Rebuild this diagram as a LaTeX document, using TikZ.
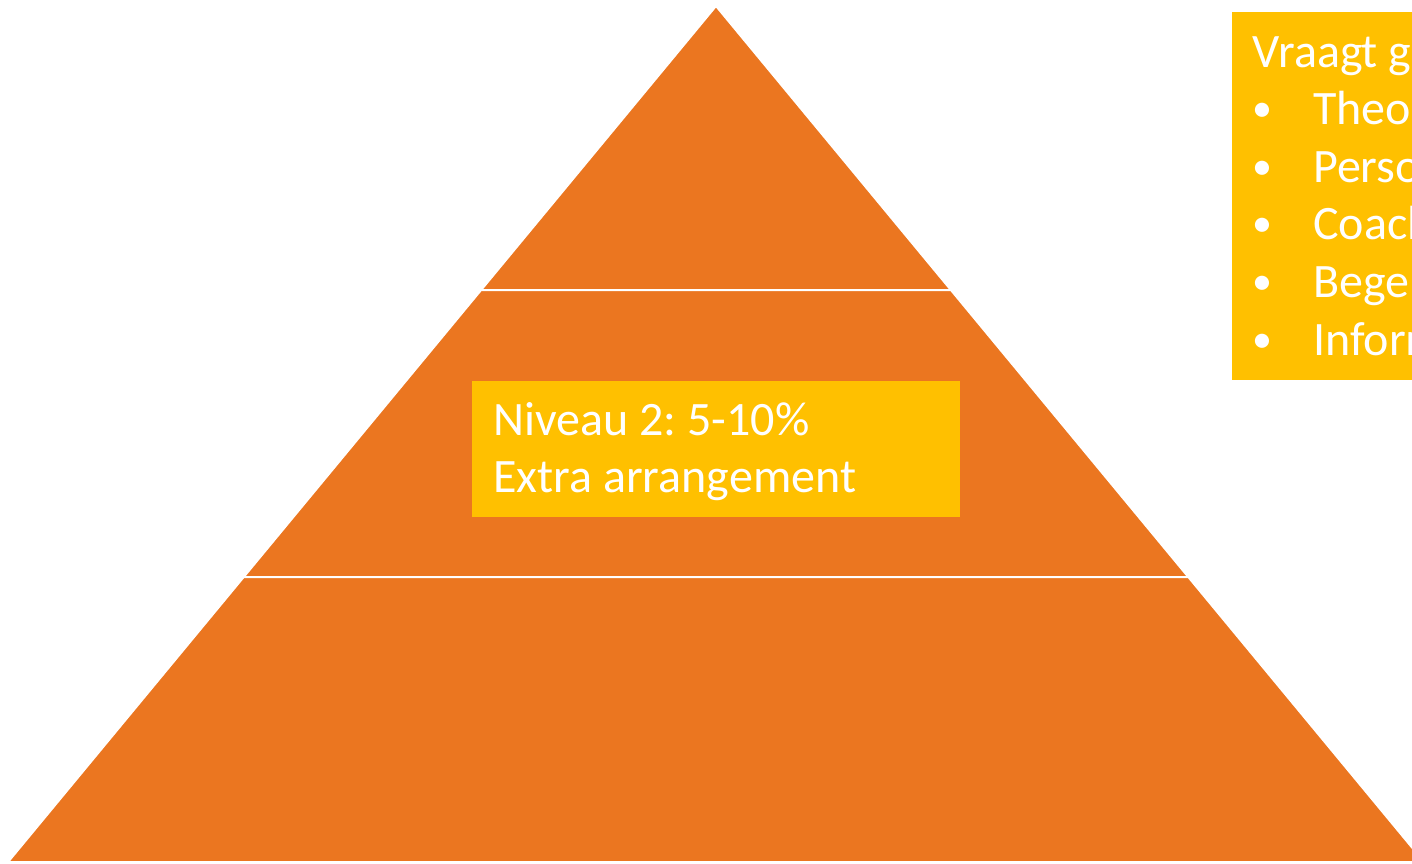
\documentclass[tikz,border=0pt]{standalone}
\usepackage{fontspec}
\setmainfont{Carlito}
\frenchspacing
\definecolor{pyrorange}{RGB}{235,118,32}
\definecolor{boxgold}{RGB}{255,192,0}

\begin{document}
\begin{tikzpicture}[x=1pt,y=-1pt,
    level/.style={fill=pyrorange,draw=white,line width=2pt,line join=miter},
    infobox/.style={fill=boxgold,inner sep=0pt,anchor=north west},
    boxtext/.style={text=white,font=\fontsize{48}{57.5}\selectfont,
        anchor=base west,inner sep=0pt}]
    \clip (0,0) rectangle (1412,863);

    % corners of the pyramid levels
    \coordinate (apex) at (716,6);
    \coordinate (l1) at (481.1,290);  \coordinate (r1) at (950.9,290);
    \coordinate (l2) at (243.7,577);  \coordinate (r2) at (1188.3,577);
    \coordinate (l3) at (8,862);      \coordinate (r3) at (1424,862);

    \draw[level] (apex) -- (r1) -- (l1) -- cycle;
    \draw[level] (l1) -- (r1) -- (r2) -- (l2) -- cycle;
    \draw[level] (l2) -- (r2) -- (r3) -- (l3) -- cycle;

    % level 2 label
    \node[infobox,minimum width=488pt,minimum height=136pt] (niveau) at (472,381) {};
    \node[boxtext] (niveau-1) at (493,435) {Niveau 2: 5-10\%};
    \node[boxtext] (niveau-2) at (493,492) {Extra arrangement};

    % list box, cut off by the right edge
    \node[infobox,minimum width=260pt,minimum height=368pt] (vraag) at (1232,12) {};
    \node[boxtext] (vraag-0) at (1252,67) {Vraagt g};
    \foreach \item [count=\i] in {Theo,Perso,Coach,Bege,Inform}{
        \node[boxtext,font=\fontsize{40}{48}\selectfont] (dot-\i) at (1252,64+57.6*\i) {•};
        \node[boxtext] (vraag-\i) at (1313,67+57.6*\i) {\item};
    }
\end{tikzpicture}
\end{document}
